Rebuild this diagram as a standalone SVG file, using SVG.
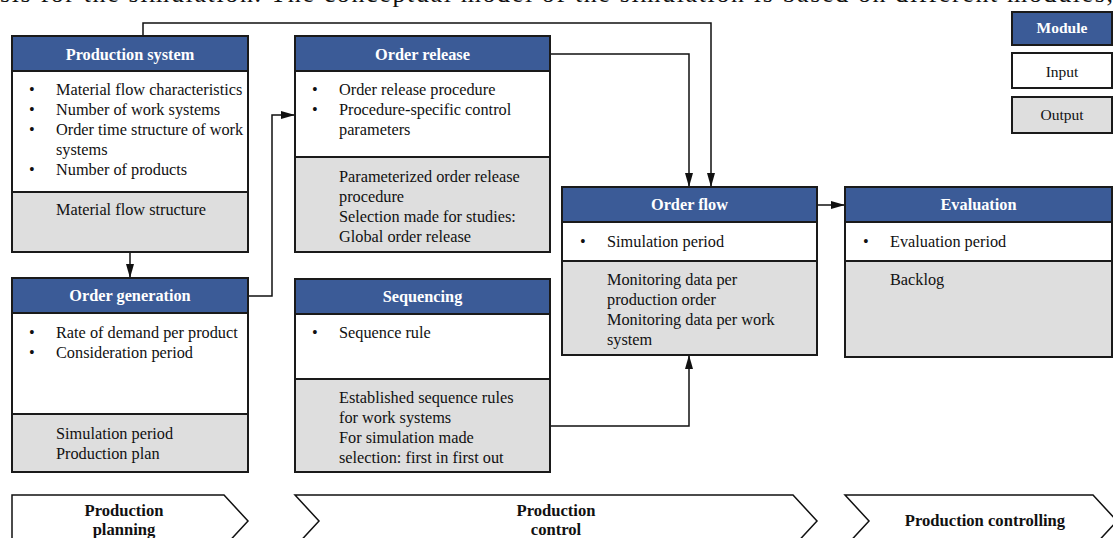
<svg xmlns="http://www.w3.org/2000/svg" width="1113" height="538" viewBox="0 0 1113 538">
<style>
text{font-family:"Liberation Serif","Times New Roman",serif;font-size:16.3px;fill:#111}
.h{fill:#3B5B97;stroke:#1a1a1a;stroke-width:2}
.i{fill:#fff;stroke:#1a1a1a;stroke-width:2}
.o{fill:#dedede;stroke:#1a1a1a;stroke-width:2}
.ht{fill:#fff;font-weight:bold;text-anchor:middle}
.c{fill:none;stroke:#111;stroke-width:1.5}
.chev{fill:#fff;stroke:#111;stroke-width:1.5}
.ct{font-weight:bold;text-anchor:middle;font-size:16.6px}
.lg{text-anchor:middle;font-size:15.5px}
</style>
<defs>
<marker id="ah" viewBox="0 0 14 8" refX="14" refY="4" markerWidth="14" markerHeight="8" markerUnits="userSpaceOnUse" orient="auto">
<path d="M0,0 L14,4 L0,8 z" fill="#111"/>
</marker>
</defs>
<rect width="1113" height="538" fill="#fff"/>
<text x="0" y="2" style="font-size:26px" textLength="1113" lengthAdjust="spacing">sis for the simulation. The conceptual model of the simulation is based on different modules,</text>

<g id="connectors">
<path class="c" d="M143,36 V23 H711 V187" marker-end="url(#ah)"/>
<path class="c" d="M550,54 H689 V187" marker-end="url(#ah)"/>
<path class="c" d="M130,252 V278" marker-end="url(#ah)"/>
<path class="c" d="M248,296 H272 V115 H295" marker-end="url(#ah)"/>
<path class="c" d="M550,426 H689 V355" marker-end="url(#ah)"/>
<path class="c" d="M817,205 H845" marker-end="url(#ah)"/>
</g>

<g id="production-system">
<rect class="o" x="12" y="192" width="236" height="60"/>
<rect class="i" x="12" y="71" width="236" height="121"/>
<rect class="h" x="12" y="36" width="236" height="35"/>
<text class="ht" x="130" y="60">Production system</text>
<text x="29" y="95">•</text><text x="56" y="95">Material flow characteristics</text>
<text x="29" y="115">•</text><text x="56" y="115">Number of work systems</text>
<text x="29" y="135">•</text><text x="56" y="135">Order time structure of work</text>
<text x="56" y="155">systems</text>
<text x="29" y="175">•</text><text x="56" y="175">Number of products</text>
<text x="56" y="215">Material flow structure</text>
</g>

<g id="order-generation">
<rect class="o" x="12" y="414" width="236" height="58"/>
<rect class="i" x="12" y="313" width="236" height="101"/>
<rect class="h" x="12" y="278" width="236" height="35"/>
<text class="ht" x="130" y="301">Order generation</text>
<text x="29" y="338">•</text><text x="56" y="338">Rate of demand per product</text>
<text x="29" y="358">•</text><text x="56" y="358">Consideration period</text>
<text x="56" y="439">Simulation period</text>
<text x="56" y="459">Production plan</text>
</g>

<g id="order-release">
<rect class="o" x="295" y="157" width="255" height="95"/>
<rect class="i" x="295" y="71" width="255" height="86"/>
<rect class="h" x="295" y="36" width="255" height="35"/>
<text class="ht" x="422.5" y="60">Order release</text>
<text x="312" y="95">•</text><text x="339" y="95">Order release procedure</text>
<text x="312" y="115">•</text><text x="339" y="115">Procedure-specific control</text>
<text x="339" y="135">parameters</text>
<text x="339" y="182">Parameterized order release</text>
<text x="339" y="202">procedure</text>
<text x="339" y="222">Selection made for studies:</text>
<text x="339" y="242">Global order release</text>
</g>

<g id="sequencing">
<rect class="o" x="295" y="379" width="255" height="93"/>
<rect class="i" x="295" y="314" width="255" height="65"/>
<rect class="h" x="295" y="279" width="255" height="35"/>
<text class="ht" x="422.5" y="302">Sequencing</text>
<text x="312" y="338">•</text><text x="339" y="338">Sequence rule</text>
<text x="339" y="403">Established sequence rules</text>
<text x="339" y="423">for work systems</text>
<text x="339" y="443">For simulation made</text>
<text x="339" y="463">selection: first in first out</text>
</g>

<g id="order-flow">
<rect class="o" x="562" y="261" width="255" height="94"/>
<rect class="i" x="562" y="222" width="255" height="39"/>
<rect class="h" x="562" y="187" width="255" height="35"/>
<text class="ht" x="689.5" y="210">Order flow</text>
<text x="580" y="247">•</text><text x="607" y="247">Simulation period</text>
<text x="607" y="285">Monitoring data per</text>
<text x="607" y="305">production order</text>
<text x="607" y="325">Monitoring data per work</text>
<text x="607" y="345">system</text>
</g>

<g id="evaluation">
<rect class="o" x="845" y="261" width="267" height="96"/>
<rect class="i" x="845" y="222" width="267" height="39"/>
<rect class="h" x="845" y="187" width="267" height="35"/>
<text class="ht" x="978.5" y="210">Evaluation</text>
<text x="863" y="247">•</text><text x="890" y="247">Evaluation period</text>
<text x="890" y="285">Backlog</text>
</g>

<g id="legend">
<rect class="h" x="1012" y="12" width="100" height="33"/>
<text class="ht lg" x="1062" y="33" style="font-weight:bold">Module</text>
<rect class="i" x="1012" y="53" width="100" height="35"/>
<text class="lg" x="1062" y="77">Input</text>
<rect class="o" x="1012" y="97" width="100" height="36"/>
<text class="lg" x="1062" y="120">Output</text>
</g>

<g id="phase-planning">
<polygon class="chev" points="12,495 224,495 248,521 224,547 12,547"/>
<text class="ct" x="124" y="516">Production</text>
<text class="ct" x="124" y="535">planning</text>
</g>
<g id="phase-control">
<polygon class="chev" points="295,495 793,495 817,521 793,547 295,547 319,521"/>
<text class="ct" x="556" y="516">Production</text>
<text class="ct" x="556" y="535">control</text>
</g>
<g id="phase-controlling">
<polygon class="chev" points="845,495 1093,495 1117,521 1093,547 845,547 869,521"/>
<text class="ct" x="985" y="526">Production controlling</text>
</g>
</svg>
